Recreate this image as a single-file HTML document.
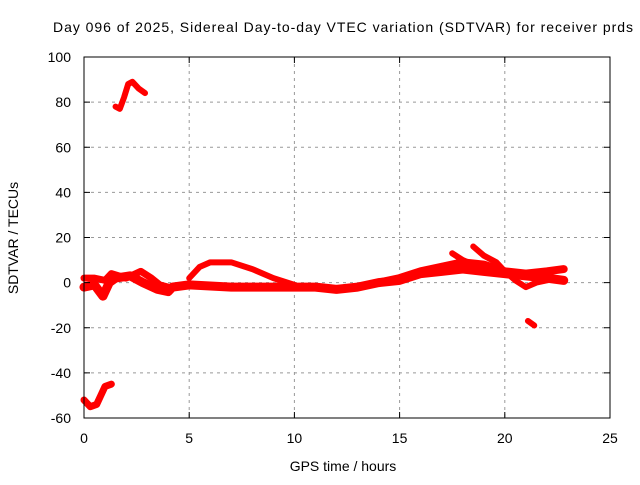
<!DOCTYPE html>
<html><head><meta charset="utf-8"><style>
body{margin:0;background:#fff}
svg text{font-family:"Liberation Sans",sans-serif;font-size:14px;fill:#000}
</style></head><body>
<svg id="c" width="640" height="480" xmlns="http://www.w3.org/2000/svg">
<rect width="640" height="480" fill="#fff"/>
<text x="53" y="32" textLength="580" lengthAdjust="spacing">Day 096 of 2025, Sidereal Day-to-day VTEC variation (SDTVAR) for receiver prds</text>
<g id="grid"></g>
<g id="series"></g>
<rect x="84" y="57" width="526" height="361" fill="none" stroke="#000" stroke-width="1"/>
<g id="ticks"></g>
<text x="343" y="471" text-anchor="middle">GPS time / hours</text>
<text transform="translate(18,238) rotate(-90)" text-anchor="middle">SDTVAR / TECUs</text>
</svg>
<script>
const xTicks=[0,5,10,15,20,25];
const yTicks=[-60,-40,-20,0,20,40,60,80,100];
const traceTopX=[1.5,1.7,1.9,2.1,2.3,2.6,2.9];
const traceTopY=[78,77,82,88,89,86,84];
const traceBotX=[0,0.3,0.6,0.8,1.0,1.3];
const traceBotY=[-52,-55,-54,-50,-46,-45];
const traceMainX=[0,0.5,0.9,1.2,1.5,2.2,2.8,3.5,4,4.2,5,7,9,11,12,13,14,15,16,17,18,19,20,21,22,22.8];
const traceMainY=[-2,-1,-6,0,2,3,0,-3,-4,-2,-1,-2,-2,-2,-3,-2,0,1,4,5,6,5,4,3,2,1];
const trace2X=[0,0.5,1,1.3,2,2.7,3.2,3.6,4];
const trace2Y=[2,2,1,4,2,5,2,-1,-2];
const bumpX=[5,5.5,6,7,8,9,10];
const bumpY=[2,7,9,9,6,2,-1];
const lateX=[14,15,16,17,18,19,20,21,22,22.8];
const lateY=[0,2,5,7,9,8,5,4,5,6];
const branch1X=[17.5,18,18.5];
const branch1Y=[13,10,8];
const branch2X=[18.5,19,19.6,20,20.5,21,21.5,22];
const branch2Y=[16,12,9,5,1,-2,0,1];
const spikeX=[21.1,21.4];
const spikeY=[-17,-19];
const NS='http://www.w3.org/2000/svg';
const X=v=>84+v*(526/25);
const Y=v=>418-(v+60)*(361/160);
const svg=document.getElementById('c');
const grid=document.getElementById('grid'),ticks=document.getElementById('ticks'),ser=document.getElementById('series');
function mk(t,a,p){const e=document.createElementNS(NS,t);for(const k in a)e.setAttribute(k,a[k]);p.appendChild(e);return e;}
xTicks.forEach(v=>{
 if(v>0&&v<25){const g=mk('line',{x1:X(v),x2:X(v),y1:57,y2:418,stroke:'#999','stroke-dasharray':'3,4'},grid);
 
 }
 const t=mk('line',{x1:X(v),x2:X(v),y1:418,y2:412,stroke:'#000'},ticks);
 
 
 mk('line',{x1:X(v),x2:X(v),y1:57,y2:63,stroke:'#000'},ticks);
 const l=mk('text',{x:X(v),y:443,'text-anchor':'middle'},svg);l.textContent=v;
 
 
});
yTicks.forEach(v=>{
 if(v>-60&&v<100){const g=mk('line',{x1:84,x2:610,y1:Y(v),y2:Y(v),stroke:'#999','stroke-dasharray':'3,4'},grid);
 
 }
 const t=mk('line',{x1:84,x2:90,y1:Y(v),y2:Y(v),stroke:'#000'},ticks);
 
 
 mk('line',{x1:604,x2:610,y1:Y(v),y2:Y(v),stroke:'#000'},ticks);
 const l=mk('text',{x:71,y:Y(v)+5,'text-anchor':'end'},svg);l.textContent=v;
 
 
});
[[traceTopX,traceTopY,'trace-top',6],[traceBotX,traceBotY,'trace-bottom',7],[traceMainX,traceMainY,'trace-main',9],[trace2X,trace2Y,'trace-early',7],[bumpX,bumpY,'trace-bump',6],[lateX,lateY,'trace-late',8],[branch1X,branch1Y,'trace-branch-1',6],[branch2X,branch2Y,'trace-branch-2',6],[spikeX,spikeY,'trace-spike',6]].forEach(([xs,ys,n,w])=>{
 const p=mk('polyline',{points:xs.map((x,i)=>X(x)+','+Y(ys[i])).join(' '),fill:'none',stroke:'#f00','stroke-width':w,'stroke-linejoin':'round','stroke-linecap':'round'},ser);
 
 
});
</script>
</body></html>
